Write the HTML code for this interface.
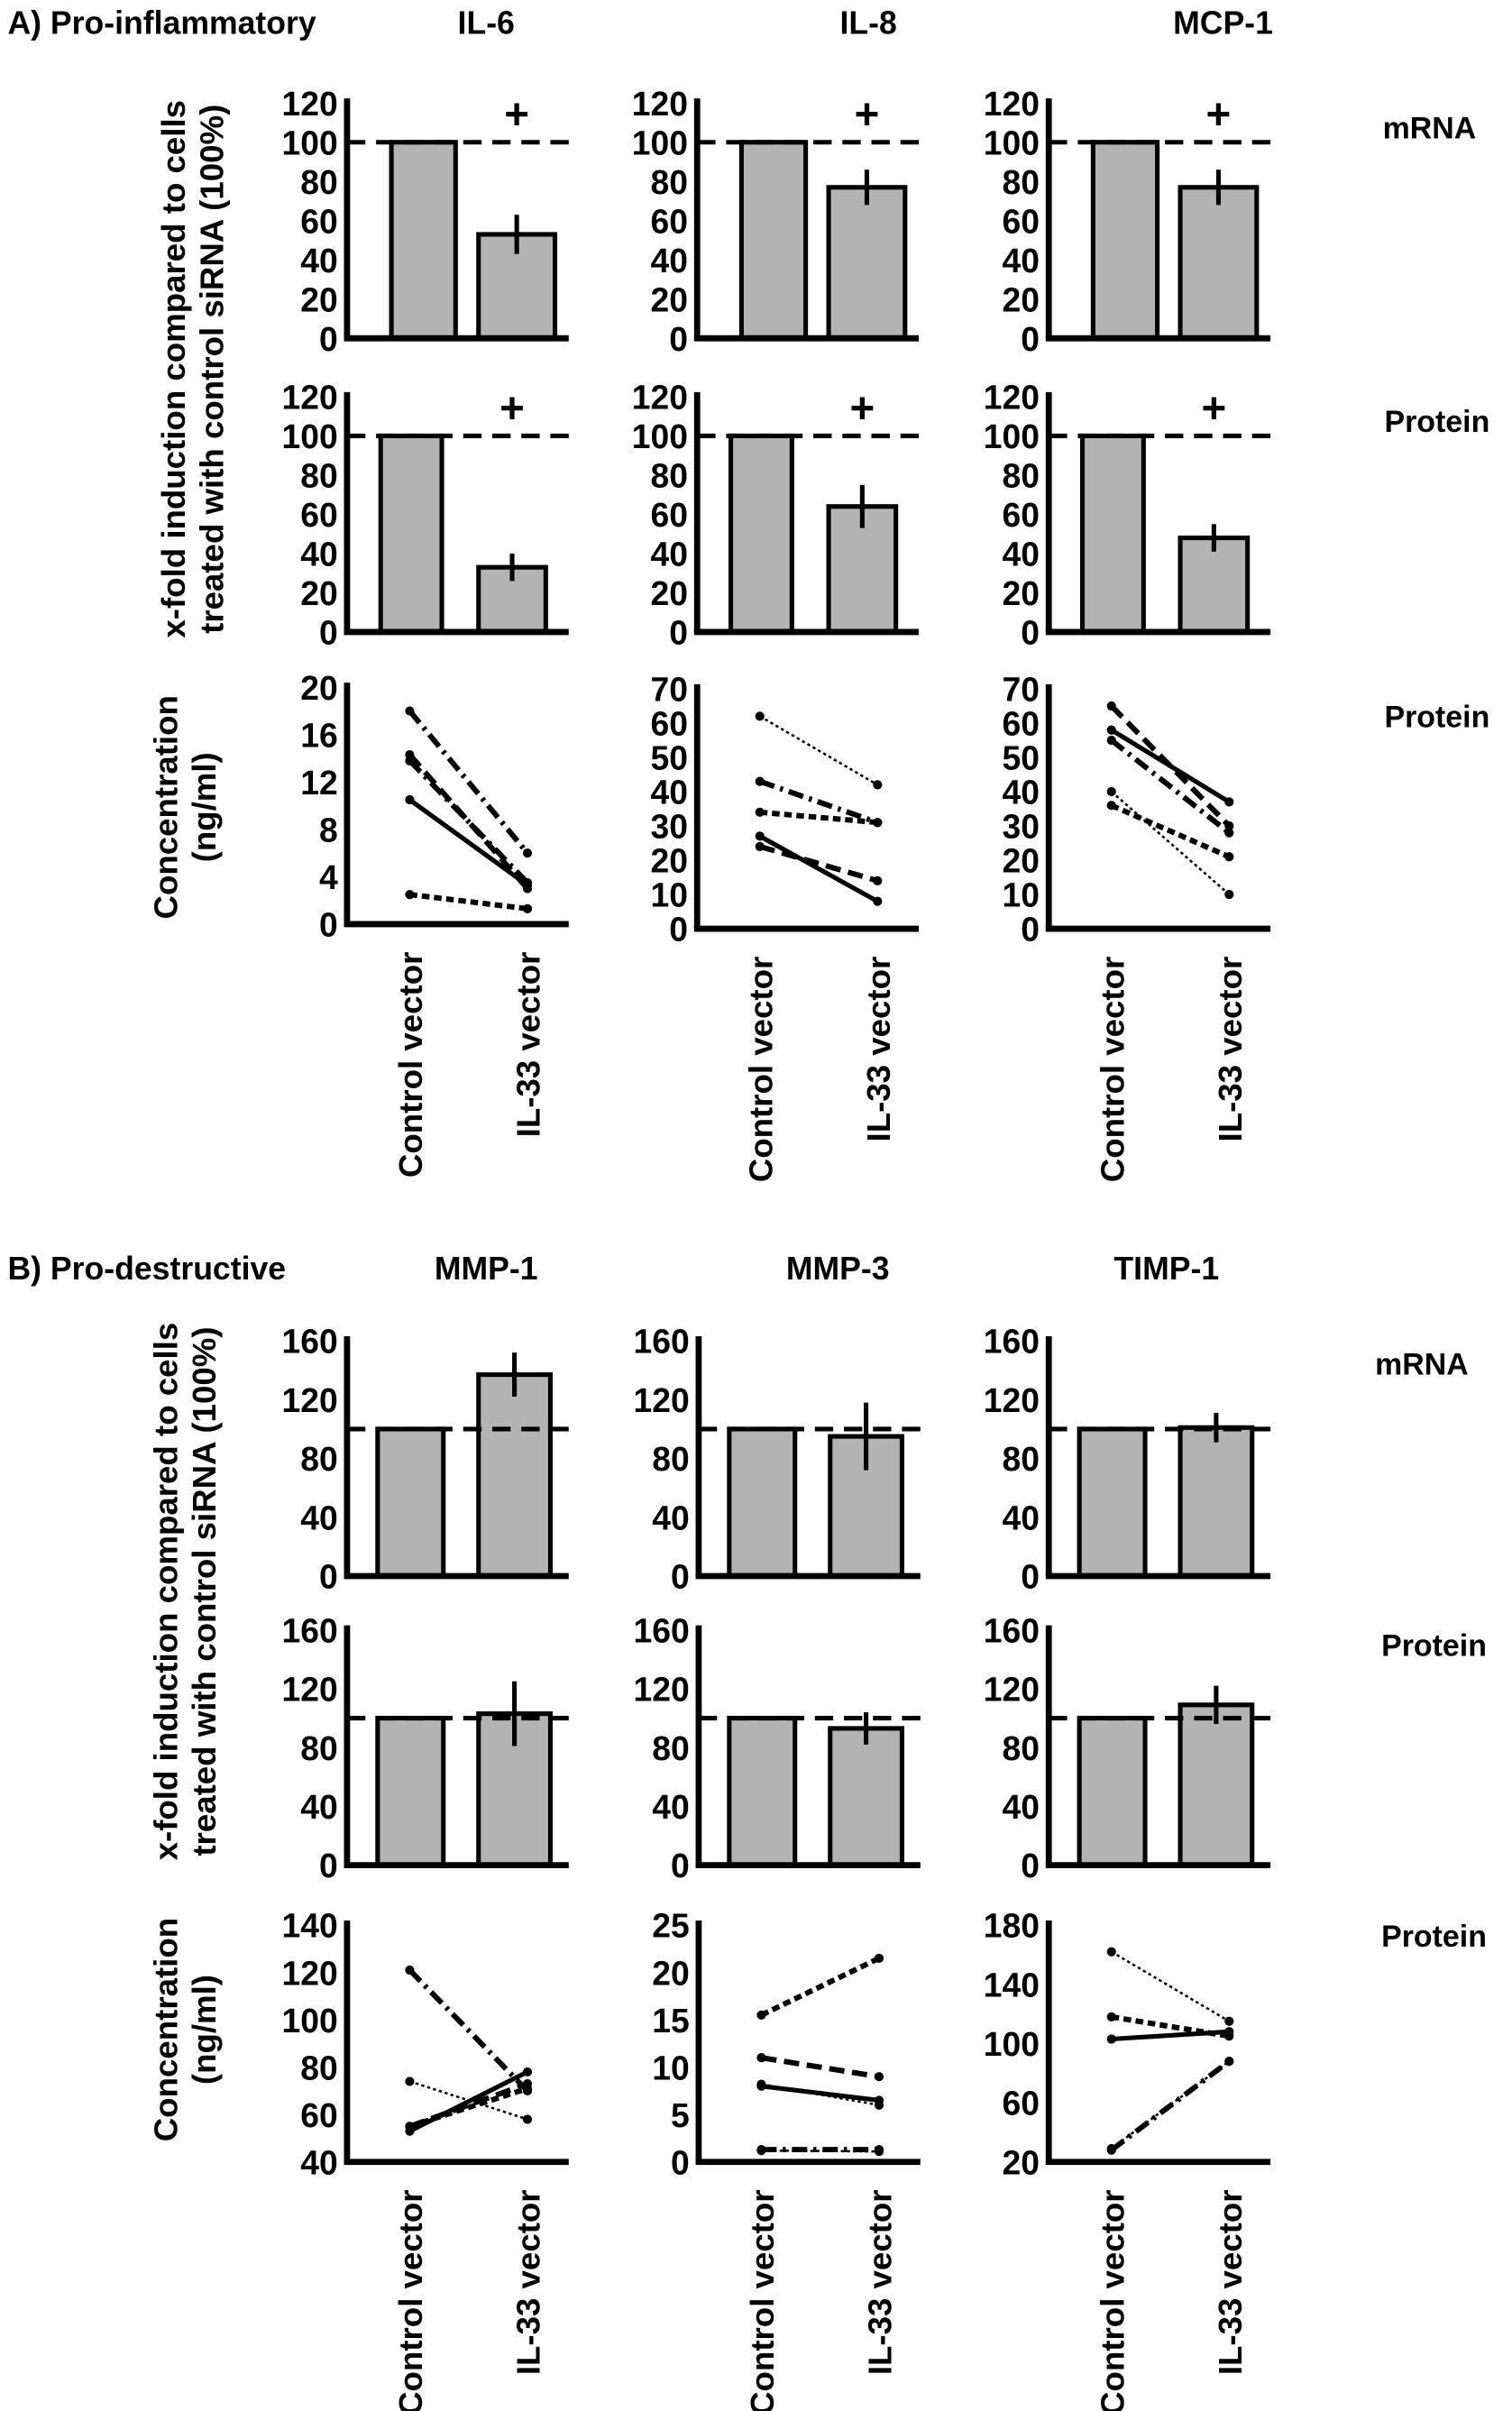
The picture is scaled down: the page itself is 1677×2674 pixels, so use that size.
<!DOCTYPE html>
<html><head><meta charset="utf-8"><style>
html,body{margin:0;padding:0;background:#fff}
svg{display:block}
text{font-family:"Liberation Sans Narrow","Liberation Sans",sans-serif;font-weight:bold;fill:#000}
.w{font-family:"Liberation Sans",sans-serif;font-weight:bold}
</style></head><body>
<svg id="fig" width="1677" height="2674" viewBox="0 0 989 1568" preserveAspectRatio="none" xmlns="http://www.w3.org/2000/svg">
<text x="5" y="22" font-size="21">A) Pro-inflammatory</text>
<text x="318" y="22" font-size="21" text-anchor="middle">IL-6</text>
<text x="568" y="22" font-size="21" text-anchor="middle">IL-8</text>
<text x="800" y="22" font-size="21" text-anchor="middle">MCP-1</text>
<text x="5" y="832" font-size="21">B) Pro-destructive</text>
<text x="318" y="832" font-size="21" text-anchor="middle">MMP-1</text>
<text x="548" y="832" font-size="21" text-anchor="middle">MMP-3</text>
<text x="763" y="832" font-size="21" text-anchor="middle">TIMP-1</text>
<g font-size="20">
<text class="w" x="935" y="90" text-anchor="middle">mRNA</text>
<text class="w" x="940" y="281" text-anchor="middle">Protein</text>
<text class="w" x="940" y="473" text-anchor="middle">Protein</text>
<text class="w" x="930" y="894" text-anchor="middle">mRNA</text>
<text class="w" x="938" y="1077" text-anchor="middle">Protein</text>
<text class="w" x="938" y="1266" text-anchor="middle">Protein</text>
</g>
<g font-size="21.5">
<text class="w" transform="translate(121,240) rotate(-90)" text-anchor="middle">x-fold induction compared to cells</text>
<text class="w" transform="translate(146,240) rotate(-90)" text-anchor="middle">treated with control siRNA (100%)</text>
<text class="w" transform="translate(116,525) rotate(-90)" text-anchor="middle">Concentration</text>
<text class="w" transform="translate(141,525) rotate(-90)" text-anchor="middle">(ng/ml)</text>
<text class="w" transform="translate(116,1035) rotate(-90)" text-anchor="middle">x-fold induction compared to cells</text>
<text class="w" transform="translate(141,1035) rotate(-90)" text-anchor="middle">treated with control siRNA (100%)</text>
<text class="w" transform="translate(116,1320) rotate(-90)" text-anchor="middle">Concentration</text>
<text class="w" transform="translate(141,1320) rotate(-90)" text-anchor="middle">(ng/ml)</text>
</g>
<g id="charts"></g>
</svg>
<script>
// ---- data ----
const groups = ["Control vector", "IL-33 vector"];
const barNamesA = ["il6", "il8", "mcp1"];
const barNamesB = ["mmp1", "mmp3", "timp1"];
const mrnaA = [53, 77, 77];
const mrnaAErr = [10, 9, 9];
const protA = [33, 64, 48];
const protAErr = [7, 11, 7];
const mrnaB = [137, 95, 101];
const mrnaBErr = [15, 23, 10];
const protB = [103, 93, 109];
const protBErr = [22, 11, 13];
const ticksA = [0, 20, 40, 60, 80, 100, 120];
const ticksB = [0, 40, 80, 120, 160];
// line chart series: [control, il33]
const il6Lines = [[18, 6], [14.3, 3], [13.8, 3.5], [10.5, 3.3], [2.5, 1.3]];
const il8Lines = [[62, 42], [43, 31], [34, 31], [27, 8], [24, 14]];
const mcp1Lines = [[65, 30], [58, 37], [55, 28], [40, 10], [36, 21]];
const mmp1Lines = [[121, 70], [74, 58], [55, 71], [53, 78], [55, 73]];
const mmp3Lines = [[15.5, 21.5], [11, 9], [8, 6.5], [8.2, 6], [1.3, 1.3], [1.2, 1.1]];
const timp1Lines = [[162, 115], [118, 105], [103, 108], [28, 88], [29, 88]];
const il6Ticks = [0, 4, 8, 12, 16, 20];
const il8Ticks = [0, 10, 20, 30, 40, 50, 60, 70];
const mmp1Ticks = [40, 60, 80, 100, 120, 140];
const mmp3Ticks = [0, 5, 10, 15, 20, 25];
const timp1Ticks = [20, 60, 100, 140, 180];
const il6Styles = ["dashdot", "dashed", "dashdot", "solid", "dotted"];
const il8Styles = ["thin", "dashdot", "dotted", "solid", "dashed"];
const mcp1Styles = ["dashed", "solid", "dashdot", "thin", "dotted"];
const mmp1Styles = ["dashdot", "thin", "dotted", "solid", "dashed"];
const mmp3Styles = ["dotted", "dashed", "solid", "thin", "dashdot", "thin"];
const timp1Styles = ["thin", "dotted", "solid", "dashdot", "thin"];

const NS = "http://www.w3.org/2000/svg";
const root = document.getElementById("charts");
function mk(tag, attrs, parent) {
  const e = document.createElementNS(NS, tag);
  for (const k in attrs) e.setAttribute(k, attrs[k]);
  (parent || root).appendChild(e);
  return e;
}
function axes(g, x0, x1, yTop, yBot, ticks, scale, name) {
  const ya = mk("line", {x1: x0, y1: yTop - 3, x2: x0, y2: yBot, stroke: "#000", "stroke-width": 4}, g);
  
  
  const xa = mk("line", {x1: x0 - 2, y1: yBot, x2: x1, y2: yBot, stroke: "#000", "stroke-width": 4}, g);
  
  
  ticks.forEach(t => {
    const tx = mk("text", {x: x0 - 6, y: scale(t) + 8, "font-size": 22, "text-anchor": "end"}, g);
    tx.textContent = t;
    
    
  });
}
function barChart(name, x0, yBot, yTop, maxV, ticks, val, err, plus, bw) {
  const g = mk("g", {});
  
  
  const sc = v => yBot - (v / maxV) * (yBot - yTop);
  const x1 = x0 + 145;
  const bx = [x0 + bw[0], x0 + bw[1]];
  const wd = [bw[2], bw[3]];
  [100, val].forEach((v, i) => {
    const r = mk("rect", {x: bx[i], y: sc(v), width: wd[i], height: yBot - sc(v), fill: "#b3b3b3", stroke: "#000", "stroke-width": 3}, g);
    
    
  });
  const dl = mk("line", {x1: x0, y1: sc(100), x2: x1, y2: sc(100), stroke: "#000", "stroke-width": 3, "stroke-dasharray": "12,7"}, g);
  
  
  const cx = bx[1] + wd[1] / 2;
  const eb = mk("line", {x1: cx, y1: sc(val + err), x2: cx, y2: sc(val - err), stroke: "#000", "stroke-width": 3}, g);
  
  
  axes(g, x0, x1, yTop, yBot, ticks, sc, name);
  if (plus) {
    const p = mk("text", {x: cx, y: yTop + 17, "font-size": 28, "text-anchor": "middle", class: "w"}, g);
    p.textContent = "+";
    
    
  }
}
const dash = {solid: ["", 3], dashed: ["10,5", 3.5], dotted: ["5,3", 3.5], dashdot: ["10,4,2,4", 3.5], thin: ["2,2", 1.5]};
function lineChart(name, x0, yBot, yTop, minV, maxV, ticks, series, styles) {
  const g = mk("g", {});
  
  
  const sc = v => yBot - ((v - minV) / (maxV - minV)) * (yBot - yTop);
  const xs = [x0 + 41, x0 + 118];
  series.forEach((s, i) => {
    const st = dash[styles[i]];
    const l = mk("line", {x1: xs[0], y1: sc(s[0]), x2: xs[1], y2: sc(s[1]), stroke: "#000", "stroke-width": st[1], "stroke-dasharray": st[0]}, g);
    
    
    s.forEach((v, j) => {
      const c = mk("circle", {cx: xs[j], cy: sc(v), r: 3, fill: "#000"}, g);
      
      
    });
  });
  axes(g, x0, x0 + 145, yTop, yBot, ticks, sc, name);
  groups.forEach((lab, j) => {
    const t = mk("text", {transform: "translate(" + (xs[j] + 8) + "," + (yBot + 18) + ") rotate(-90)", "font-size": 21.5, "text-anchor": "end", class: "w"}, g);
    t.textContent = lab;
    
    
  });
}
const xA = [227, 456, 686];
barNamesA.forEach((n, i) => {
  barChart(n + "-mrna", xA[i], 220, 67, 120, ticksA, mrnaA[i], mrnaAErr[i], true, [29, 86, 42, 50]);
  barChart(n + "-protein", xA[i], 411, 258, 120, ticksA, protA[i], protAErr[i], true, [22, 86, 40, 44]);
});
lineChart("il6-conc", 227, 601, 447, 0, 20, il6Ticks, il6Lines, il6Styles);
lineChart("il8-conc", 456, 604, 448, 0, 70, il8Ticks, il8Lines, il8Styles);
lineChart("mcp1-conc", 686, 604, 448, 0, 70, il8Ticks, mcp1Lines, mcp1Styles);
const xB = [227, 457, 686];
barNamesB.forEach((n, i) => {
  barChart(n + "-mrna", xB[i], 1025, 872, 160, ticksB, mrnaB[i], mrnaBErr[i], false, [20, 86, 43, 47]);
  barChart(n + "-protein", xB[i], 1213, 1060, 160, ticksB, protB[i], protBErr[i], false, [20, 86, 43, 47]);
});
lineChart("mmp1-conc", 227, 1406, 1252, 40, 140, mmp1Ticks, mmp1Lines, mmp1Styles);
lineChart("mmp3-conc", 457, 1406, 1252, 0, 25, mmp3Ticks, mmp3Lines, mmp3Styles);
lineChart("timp1-conc", 686, 1406, 1252, 20, 180, timp1Ticks, timp1Lines, timp1Styles);
</script>
</body></html>
